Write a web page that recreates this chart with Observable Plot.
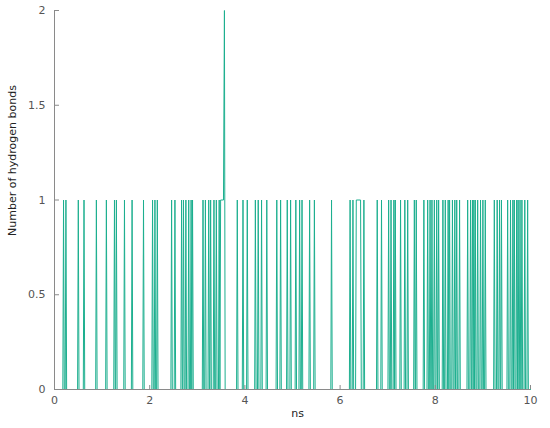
<!DOCTYPE html>
<html>
<head>
<meta charset="utf-8">
<script src="https://cdn.jsdelivr.net/npm/d3@7"></script>
<script src="https://cdn.jsdelivr.net/npm/@observablehq/plot@0.6"></script>
<style>
  html, body { margin: 0; padding: 0; background: #fff; }
</style>
</head>
<body>
<div id="chart"></div>
<script>
// Times (ns) where the hydrogen-bond count briefly reaches 1
const singleBondNs = [
  0.19, 0.24, 0.50, 0.62, 0.88, 1.09, 1.26, 1.30, 1.47, 1.63, 1.87,
  2.06, 2.11, 2.16, 2.46, 2.53, 2.67, 2.71, 2.76, 2.82, 2.87, 2.90,
  3.12, 3.17, 3.24, 3.28, 3.35, 3.40, 3.46,
  3.84, 3.96, 4.05, 4.22, 4.28, 4.35, 4.46, 4.67, 4.75, 4.89, 4.96,
  5.07, 5.15, 5.20, 5.36, 5.46, 5.82,
  6.21, 6.27, 6.50, 6.78, 6.87,
  7.02, 7.07, 7.13, 7.16, 7.27, 7.36, 7.42, 7.56, 7.60, 7.76, 7.84, 7.89, 7.93, 7.98,
  8.03, 8.07, 8.16, 8.21, 8.27, 8.30, 8.36, 8.41, 8.45, 8.51, 8.68, 8.74, 8.78, 8.81, 8.84, 8.89, 8.95,
  9.00, 9.05, 9.24, 9.30, 9.35, 9.39, 9.52, 9.58, 9.63, 9.66, 9.71, 9.74, 9.78, 9.82, 9.88, 9.94
];
// Intervals (ns) where the count stays at a level
const plateauStartNs = [3.49, 3.57, 6.34];
const plateauEndNs   = [3.55, 3.57, 6.43];
const plateauBonds   = [1, 2, 1];

const sampleStepNs = 0.015;
const xTicks = [0, 2, 4, 6, 8, 10];
const yTicks = [0, 0.5, 1, 1.5, 2];
const xLabel = "ns";
const yLabel = "Number of hydrogen bonds";

// Build the time series vertices from the events above
const events = singleBondNs.map(t => ({start: t, end: t, level: 1}))
  .concat(plateauStartNs.map((s, i) => ({start: s, end: plateauEndNs[i], level: plateauBonds[i]})))
  .sort((a, b) => a.start - b.start);

const series = [{t: 0, v: 0}];
let prevEnd = -1;
events.forEach((e, i) => {
  if (e.start - prevEnd > 1.5 * sampleStepNs) series.push({t: e.start - sampleStepNs, v: 0});
  series.push({t: e.start, v: e.level});
  if (e.end > e.start) series.push({t: e.end, v: e.level});
  const next = events[i + 1];
  if (!next || next.start - e.end > 1.5 * sampleStepNs) series.push({t: e.end + sampleStepNs, v: 0});
  prevEnd = e.end;
});
series.push({t: 10, v: 0});

const lineColor = "#1daf8f";
const axisColor = "#8a8a8a";

const chart = Plot.plot({
  width: 550,
  height: 428,
  marginLeft: 54,
  marginRight: 20,
  marginTop: 10,
  marginBottom: 39,
  style: {fontFamily: "'DejaVu Sans', Verdana, sans-serif", fontSize: "11px", background: "#fff"},
  x: {domain: [0, 10]},
  y: {domain: [0, 2]},
  marks: [
    Plot.line(series, {x: "t", y: "v", stroke: lineColor, strokeWidth: 1}),
    Plot.ruleX([0], {stroke: axisColor}),
    Plot.ruleY([0], {stroke: axisColor}),
    Plot.axisX(xTicks, {tickSize: -4, tickPadding: 11, stroke: axisColor, fill: "#555", label: null, tickFormat: d => String(d)}),
    Plot.axisY(yTicks, {tickSize: -5, tickPadding: 14, stroke: axisColor, fill: "#555", label: null, tickFormat: d => String(d)}),
    Plot.text([xLabel], {frameAnchor: "bottom", dx: 5, dy: 27, fill: "#222"}),
    Plot.text([yLabel], {frameAnchor: "left", rotate: -90, dx: -42, dy: 36, fill: "#222"})
  ]
});
document.getElementById("chart").appendChild(chart);
</script>
</body>
</html>
